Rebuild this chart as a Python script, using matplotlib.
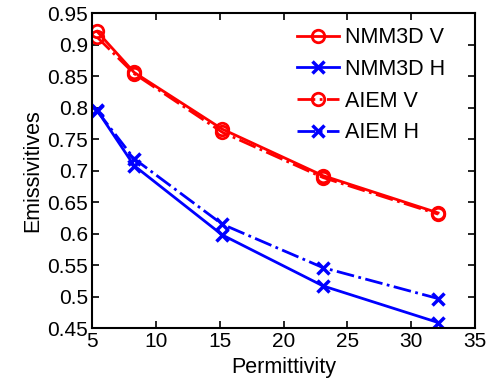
import matplotlib
matplotlib.use("Agg")
import matplotlib.pyplot as plt

plt.rcParams['font.family'] = ['Liberation Sans', 'DejaVu Sans']

# permittivity values
eps = [5.4, 8.3, 15.2, 23.1, 32.1]

# emissivities
nmm3d_v = [0.921, 0.856, 0.766, 0.692, 0.633]
nmm3d_h = [0.796, 0.708, 0.598, 0.517, 0.459]
aiem_v = [0.912, 0.854, 0.761, 0.689, 0.631]
aiem_h = [0.795, 0.719, 0.615, 0.546, 0.497]

fig = plt.figure(figsize=(4.97, 3.87), dpi=100)
ax = fig.add_axes([0.185, 0.152, 0.771, 0.814])

ax.plot(eps, nmm3d_v, '-', color='#ff0000', lw=2, marker='o', ms=9,
        mfc='none', mew=2, label='NMM3D V')
ax.plot(eps, nmm3d_h, '-', color='#0000ff', lw=2, marker='x', ms=8,
        mew=2.5, label='NMM3D H')
ax.plot(eps, aiem_v, '-.', color='#ff0000', lw=2, marker='o', ms=9,
        mfc='none', mew=2, label='AIEM V')
ax.plot(eps, aiem_h, '-.', color='#0000ff', lw=2, marker='x', ms=8,
        mew=2.5, label='AIEM H')

ax.set_xlim(5, 35)
ax.set_ylim(0.45, 0.95)
ax.set_xticks([5, 10, 15, 20, 25, 30, 35])
ax.set_yticks([0.45, 0.5, 0.55, 0.6, 0.65, 0.7, 0.75, 0.8, 0.85, 0.9, 0.95])
ax.set_yticklabels(['0.45', '0.5', '0.55', '0.6', '0.65', '0.7', '0.75',
                    '0.8', '0.85', '0.9', '0.95'])
ax.tick_params(direction='in', top=True, right=True, labelsize=15,
               length=5, width=1.2, pad=3)
for s in ax.spines.values():
    s.set_linewidth(1.5)

ax.set_xlabel('Permittivity', fontsize=15.5, labelpad=4)
ax.set_ylabel('Emissivitives', fontsize=15.5, labelpad=3)

leg = ax.legend(loc='upper right', frameon=False, fontsize=15.5,
                handlelength=1.95, handletextpad=0.3, labelspacing=0.5,
                borderaxespad=0.1, bbox_to_anchor=(0.95, 0.99))

fig.savefig('out.png', dpi=100)
